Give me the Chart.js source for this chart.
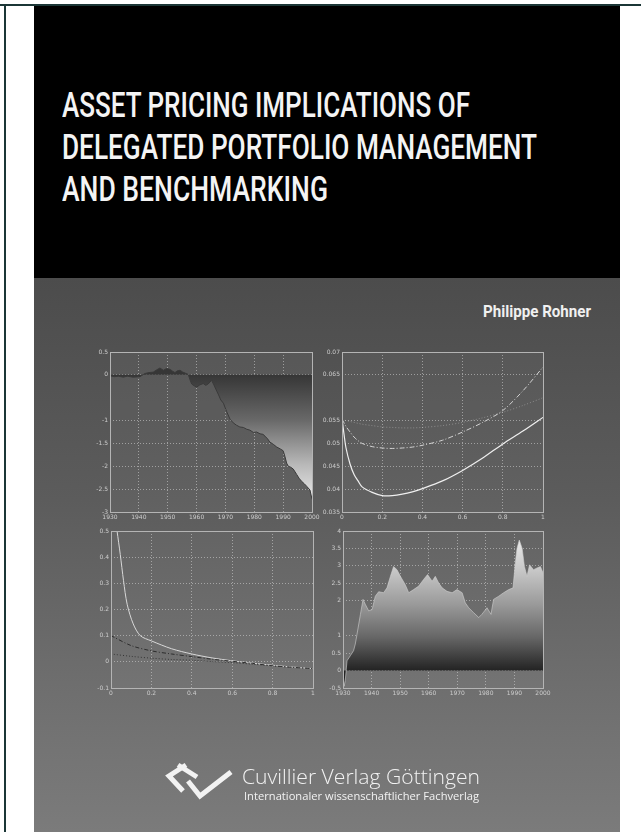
<!DOCTYPE html>
<html>
<head>
<meta charset="utf-8">
<script src="https://cdn.jsdelivr.net/npm/chart.js@4.4.0/dist/chart.umd.min.js"></script>
<style>
  html, body { margin: 0; padding: 0; background: #fff; }
  #page { position: relative; width: 641px; height: 832px; overflow: hidden; background: #fff; }
  .rule-top { position: absolute; left: 0; top: 4px; width: 641px; height: 2px; background: #1b3636; }
  .rule-left { position: absolute; left: 4px; top: 4px; width: 2px; height: 828px; background: #1b3636; }
  #black { position: absolute; left: 34px; top: 6px; width: 586px; height: 272px; background: #000; }
  #gray { position: absolute; left: 34px; top: 278px; width: 586px; height: 554px;
          background: linear-gradient(#4c4c4c 0%, #5c5c5c 40%, #6f6f6f 75%, #7b7b7b 100%); }
  .title { position: absolute; left: 62px; color: #f4f4f4; font-family: "Liberation Sans Narrow", "Roboto", sans-serif;
           font-weight: 500; font-size: 35px; line-height: 35px; white-space: nowrap; transform-origin: 0 0; }
  #author { position: absolute; top: 304px; color: #f0f0f0; font-family: "Liberation Sans Narrow", "Roboto", sans-serif;
            font-weight: bold; font-size: 16px; line-height: 16px; white-space: nowrap; transform-origin: 0 0; }
  .pub { position: absolute; left: 242px; color: #f2f2f2; font-family: "Open Sans", "Noto Sans", sans-serif;
         white-space: nowrap; transform-origin: 0 0; }
  #pub1 { top: 764px; font-size: 21px; line-height: 24px; font-weight: 300; }
  #pub2 { top: 789px; font-size: 11px; line-height: 14px; left: 244px; }
  canvas { position: absolute; }
  #logo { position: absolute; left: 0; top: 0; }
</style>
</head>
<body>
<div id="page">
  <div class="rule-top"></div>
  <div class="rule-left"></div>
  <div id="black"></div>
  <div id="gray"></div>
  <div class="title" id="t1" style="top:88px">ASSET PRICING IMPLICATIONS OF</div>
  <div class="title" id="t2" style="top:130px">DELEGATED PORTFOLIO MANAGEMENT</div>
  <div class="title" id="t3" style="top:172px">AND BENCHMARKING</div>
  <div id="author">Philippe Rohner</div>

  <canvas id="c1"></canvas>
  <canvas id="c2"></canvas>
  <canvas id="c3"></canvas>
  <canvas id="c4"></canvas>

  <svg id="logo" width="641" height="832">
    <g fill="none" stroke="#f2f2f2" stroke-width="5">
      <polyline points="186,765 169,776 183,791"/>
      <polyline points="178,765 197,777"/>
      <polyline points="188,781 200,796 231,772"/>
    </g>
  </svg>
  <div class="pub" id="pub1">Cuvillier Verlag Göttingen</div>
  <div class="pub" id="pub2">Internationaler wissenschaftlicher Fachverlag</div>
</div>

<script>
// top left: cumulative return, 1930-2000
const years1 = [1930, 1931.5, 1933, 1934.6, 1936, 1938, 1940.4, 1942.1, 1943.5, 1945, 1946.2, 1947.3, 1948.5, 1949.6,
  1950.8, 1951.7, 1952.5, 1953.4, 1954.3, 1955.2, 1956, 1957.1, 1957.8, 1958.3, 1959.2, 1960, 1961.1, 1962.3, 1963.2,
  1964, 1965.2, 1966, 1966.8, 1967.5, 1968.4, 1969.3, 1970.4, 1971.6, 1972.7, 1973.8, 1975, 1976.2, 1977.4, 1978.5,
  1979.7, 1980.8, 1982, 1983, 1983.7, 1984.6, 1985.4, 1986.6, 1987.8, 1989, 1990, 1990.6, 1991.2, 1991.8, 1992.6,
  1993.5, 1994.7, 1995.5, 1996.4, 1997.3, 1998.2, 1999.3, 2000];
const values1 = [-0.02, -0.04, -0.03, -0.05, -0.03, -0.05, -0.04, 0.03, 0.05, 0.06, 0.11, 0.15, 0.10, 0.14,
  0.12, 0.08, 0.05, 0.09, 0.10, 0.06, 0.04, 0.01, -0.12, -0.2, -0.24, -0.27, -0.22, -0.19, -0.23,
  -0.2, -0.12, -0.22, -0.33, -0.42, -0.55, -0.62, -0.8, -0.97, -1.05, -1.1, -1.14, -1.15, -1.19, -1.21,
  -1.26, -1.25, -1.29, -1.3, -1.34, -1.4, -1.47, -1.52, -1.58, -1.62, -1.66, -1.78, -1.93, -2.0, -2.02,
  -2.06, -2.18, -2.26, -2.33, -2.38, -2.44, -2.52, -2.72];

// top right: two curves over 0..1
const x2 = [0, 0.01, 0.02, 0.04, 0.06, 0.08, 0.1, 0.15, 0.2, 0.25, 0.3, 0.35, 0.4, 0.5, 0.6, 0.7, 0.8, 0.9, 1];
const solid2 = [0.0555, 0.052, 0.049, 0.0455, 0.0432, 0.0418, 0.0405, 0.0393, 0.0386, 0.0386, 0.0389, 0.0394,
  0.0401, 0.0418, 0.0441, 0.0468, 0.0499, 0.0527, 0.0557];
const dashed2 = [0.0553, 0.0545, 0.0537, 0.0525, 0.0514, 0.0506, 0.05, 0.0493, 0.049, 0.0489, 0.049, 0.0492,
  0.0496, 0.0507, 0.0525, 0.0546, 0.0572, 0.0615, 0.0667];
const dotted2 = [0.0552, 0.0551, 0.055, 0.0548, 0.0546, 0.0544, 0.0542, 0.0539, 0.0536, 0.0535, 0.0534, 0.0534,
  0.0535, 0.0539, 0.0546, 0.0556, 0.0568, 0.0583, 0.06];

// bottom left: three decaying curves over 0..1
const x3 = [0.02, 0.03, 0.046, 0.062, 0.08, 0.11, 0.145, 0.2, 0.3, 0.4, 0.5, 0.6, 0.7, 0.8, 0.9, 1];
const solid3 = [0.56, 0.5, 0.41, 0.31, 0.22, 0.145, 0.1, 0.08, 0.05, 0.03, 0.015, 0.004, -0.005, -0.013, -0.02, -0.026];
const xLines3 = [0, 0.1, 0.2, 0.3, 0.4, 0.5, 0.6, 0.7, 0.8, 0.9, 1];
const dashdot3 = [0.1, 0.062, 0.042, 0.03, 0.02, 0.01, 0.002, -0.006, -0.015, -0.021, -0.026];
const dotted3 = [0.03, 0.021, 0.014, 0.009, 0.006, 0.001, -0.003, -0.009, -0.015, -0.021, -0.026];

// bottom right: index level, 1930-2000
const years4 = [1930, 1930.4, 1930.8, 1931.4, 1932.6, 1933.7, 1934.3, 1934.9, 1936.1, 1937, 1937.8, 1939, 1940.2,
  1941.3, 1942.5, 1944.2, 1945.4, 1946.6, 1947.7, 1948.9, 1950.1, 1951.8, 1953, 1954.7, 1956.5, 1958.2, 1959.6,
  1961.2, 1962.3, 1963.5, 1964.7, 1966.4, 1968.2, 1969.9, 1971.7, 1972.8, 1974, 1975.7, 1977.5, 1978.6, 1980.4,
  1981.8, 1982.7, 1984.5, 1986.2, 1988, 1989.5, 1990.3, 1990.9, 1991.7, 1992.7, 1993.5, 1994.4, 1995.3, 1996.7,
  1997.9, 1999.1, 2000];
const values4 = [0, -0.45, -0.28, 0.28, 0.43, 0.57, 0.76, 1.04, 1.61, 2.04, 1.9, 1.71, 1.75,
  2.13, 2.26, 2.23, 2.37, 2.7, 2.98, 2.89, 2.7, 2.46, 2.23, 2.32, 2.42, 2.61, 2.75,
  2.56, 2.7, 2.51, 2.37, 2.27, 2.23, 2.32, 2.23, 1.94, 1.8, 1.66, 1.52, 1.61, 1.8,
  1.61, 2.04, 2.13, 2.23, 2.32, 2.37, 3.08, 3.5, 3.74, 3.5, 2.98, 2.7, 3.03, 2.89,
  2.94, 2.98, 2.8];

// tick values that the printed cover leaves out
const hidden1 = [-0.5];
const hidden2 = [0.06];
const hidden4 = [1.5];

const YW = 24, PT = 6, PR = 12, XH = 11;

function place(id, left, top, right, bottom) {
  const c = document.getElementById(id);
  c.width = right - left + YW + PR;
  c.height = bottom - top + PT + XH;
  c.style.left = (left - YW) + 'px';
  c.style.top = (top - PT) + 'px';
  return c;
}

function pts(xs, ys) {
  return xs.map((x, i) => ({ x, y: ys[i] }));
}

function fmt(v) {
  return String(+v.toFixed(3));
}

const framePlugin = {
  id: 'frame',
  beforeDraw(chart) {
    const { ctx, chartArea: a } = chart;
    ctx.save();
    ctx.fillStyle = 'rgba(255,255,255,0.035)';
    ctx.fillRect(a.left, a.top, a.width, a.height);
    ctx.restore();
  },
  afterDraw(chart) {
    const { ctx, chartArea: a } = chart;
    ctx.save();
    ctx.strokeStyle = '#b4b4b4';
    ctx.lineWidth = 1;
    ctx.strokeRect(Math.round(a.left) + 0.5, Math.round(a.top) + 0.5, Math.round(a.width), Math.round(a.height));
    ctx.restore();
  }
};

function axis(min, max, step, fixedSize, isX, hidden = []) {
  const isHidden = v => hidden.some(h => Math.abs(h - v) < 1e-9);
  return {
    type: 'linear',
    min, max,
    afterFit: s => { if (isX) s.height = fixedSize; else s.width = fixedSize; },
    ticks: { stepSize: step, autoSkip: false, padding: 2, color: '#cdcdcd', font: { family: 'DejaVu Sans', size: 6 },
             callback: v => isHidden(v) ? '' : fmt(v) },
    grid: { color: c => (c.tick && isHidden(c.tick.value)) ? 'rgba(0,0,0,0)' : 'rgba(215,215,215,0.55)',
            drawTicks: false, lineWidth: 1 },
    border: { display: false, dash: [1, 2] }
  };
}

function baseOptions(xs, ys) {
  return {
    responsive: false,
    animation: false,
    layout: { padding: { top: PT, right: PR, left: 0, bottom: 0 } },
    elements: { point: { radius: 0 } },
    plugins: { legend: { display: false }, tooltip: { enabled: false } },
    scales: { x: xs, y: ys }
  };
}

// chart 1
new Chart(place('c1', 110, 352, 312, 512), {
  type: 'line',
  data: {
    datasets: [{
      data: pts(years1, values1),
      borderColor: '#3a3a3a',
      borderWidth: 1,
      fill: 'origin',
      backgroundColor: ctx => {
        const chart = ctx.chart;
        if (!chart.chartArea) return '#3a3a3a';
        const y = chart.scales.y;
        const g = chart.ctx.createLinearGradient(0, y.getPixelForValue(0), 0, y.getPixelForValue(-2.8));
        g.addColorStop(0, '#363636');
        g.addColorStop(0.35, '#686868');
        g.addColorStop(0.7, '#b8b8b8');
        g.addColorStop(1, '#eeeeee');
        return g;
      }
    }]
  },
  options: baseOptions(axis(1930, 2000, 10, XH, true), axis(-3, 0.5, 0.5, YW, false, hidden1)),
  plugins: [framePlugin]
});

// chart 2
new Chart(place('c2', 342, 352, 543, 512), {
  type: 'line',
  data: {
    datasets: [
      { data: pts(x2, dotted2), borderColor: 'rgba(225,225,225,0.35)', borderWidth: 1, borderDash: [1, 2], tension: 0.3 },
      { data: pts(x2, dashed2), borderColor: '#d2d2d2', borderWidth: 1, borderDash: [5, 2, 1, 2], tension: 0.3 },
      { data: pts(x2, solid2), borderColor: '#efefef', borderWidth: 1.2, tension: 0.3 }
    ]
  },
  options: baseOptions(axis(0, 1, 0.2, XH, true), axis(0.035, 0.07, 0.005, YW, false, hidden2)),
  plugins: [framePlugin]
});

// chart 3
new Chart(place('c3', 111, 531, 313, 688), {
  type: 'line',
  data: {
    datasets: [
      { data: pts(xLines3, dotted3), borderColor: '#353535', borderWidth: 1, borderDash: [1, 2], tension: 0.3 },
      { data: pts(xLines3, dashdot3), borderColor: '#2c2c2c', borderWidth: 1, borderDash: [4, 2, 1, 2], tension: 0.3 },
      { data: pts(x3, solid3), borderColor: '#d8d8d8', borderWidth: 1, tension: 0.3 }
    ]
  },
  options: baseOptions(axis(0, 1, 0.2, XH, true), axis(-0.1, 0.5, 0.1, YW, false)),
  plugins: [framePlugin]
});

// chart 4
new Chart(place('c4', 343, 531, 543, 688), {
  type: 'line',
  data: {
    datasets: [{
      data: pts(years4, values4),
      borderColor: '#d0d0d0',
      borderWidth: 0.6,
      fill: 'origin',
      backgroundColor: ctx => {
        const chart = ctx.chart;
        if (!chart.chartArea) return '#888';
        const y = chart.scales.y;
        const g = chart.ctx.createLinearGradient(0, y.getPixelForValue(3.8), 0, y.getPixelForValue(0));
        g.addColorStop(0, '#ececec');
        g.addColorStop(0.25, '#c6c6c6');
        g.addColorStop(0.5, '#9a9a9a');
        g.addColorStop(0.75, '#666666');
        g.addColorStop(1, '#232323');
        return g;
      }
    }]
  },
  options: baseOptions(axis(1930, 2000, 10, XH, true), axis(-0.5, 4, 0.5, YW, false, hidden4)),
  plugins: [framePlugin]
});

// fit the condensed cover text to the widths on the original
function fitWidth(id, width) {
  const el = document.getElementById(id);
  const w = el.getBoundingClientRect().width;
  el.style.transform = 'scaleX(' + (width / w) + ')';
}
fitWidth('t1', 408);
fitWidth('t2', 475);
fitWidth('t3', 266);
const author = document.getElementById('author');
author.style.left = '483px';
fitWidth('author', 108);
fitWidth('pub1', 238);
fitWidth('pub2', 235);
</script>
</body>
</html>
